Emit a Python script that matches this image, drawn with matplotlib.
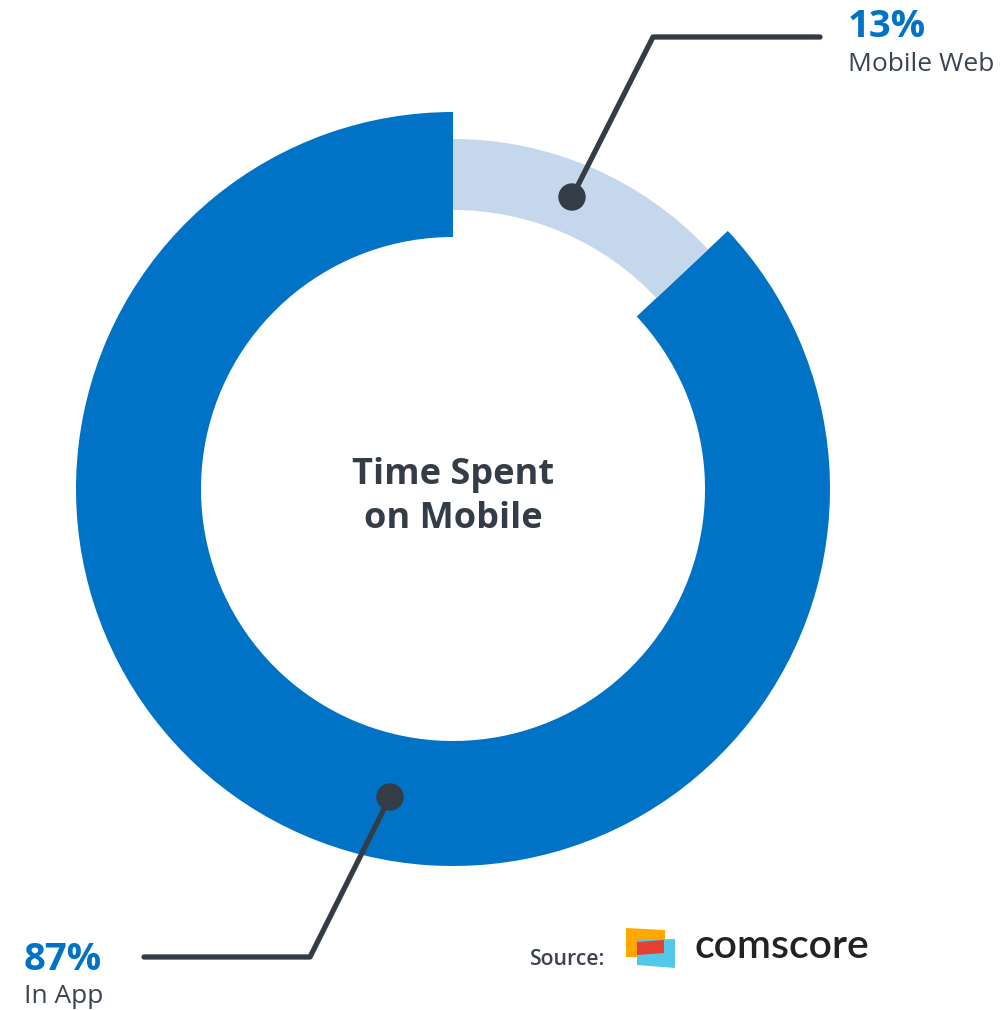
import matplotlib
matplotlib.use("Agg")
import matplotlib.pyplot as plt
from matplotlib.patches import Polygon, Circle

# ---- data ----
categories = ["In App", "Mobile Web"]
shares = [87, 13]
pct_labels = ["87%", "13%"]
title_text = "Time Spent\non Mobile"
source_text = "Source:"
brand_text = "comscore"

BLUE = "#0073C7"
LIGHT = "#C5D7EC"
DARK = "#333C47"
GREY = "#3B4450"

W, H = 1008, 1010
fig = plt.figure(figsize=(W / 100, H / 100), dpi=100)
ax = fig.add_axes([0, 0, 1, 1])
ax.set_xlim(0, W)
ax.set_ylim(0, H)
ax.set_aspect("equal")
ax.axis("off")

def Y(ypx):
    return H - ypx

cx, cy = 453, Y(489)

# outer (In App) ring
ax.pie(shares, colors=[BLUE, "none"], radius=377, center=(cx, cy),
       startangle=90, counterclock=True,
       wedgeprops=dict(width=125, linewidth=0))
# thinner Mobile Web ring
ax.pie(shares, colors=["none", LIGHT], radius=350, center=(cx, cy),
       startangle=90, counterclock=True,
       wedgeprops=dict(width=71, linewidth=0))
ax.set_xlim(0, W)
ax.set_ylim(0, H)

# center title
ax.text(cx, Y(497), title_text, ha="center", va="center", fontsize=26,
        fontweight="bold", color=DARK, family="Open Sans", linespacing=1.3)

# leader lines
ax.plot([572, 653, 820], [Y(197), Y(37), Y(37)], color=DARK, lw=3.8,
        solid_capstyle="round", solid_joinstyle="round")
ax.add_patch(Circle((572, Y(197)), 13, color=DARK, zorder=5))
ax.plot([390, 310, 144], [Y(797), Y(957), Y(957)], color=DARK, lw=3.8,
        solid_capstyle="round", solid_joinstyle="round")
ax.add_patch(Circle((390, Y(797)), 13, color=DARK, zorder=5))

# labels
ax.text(848, Y(37), pct_labels[1], ha="left", va="baseline", fontsize=27.5,
        fontweight="bold", color=BLUE, family="Open Sans")
ax.text(848, Y(71), categories[1], ha="left", va="baseline", fontsize=19,
        color=GREY, family="Open Sans")
ax.text(24, Y(970), pct_labels[0], ha="left", va="baseline", fontsize=27.5,
        fontweight="bold", color=BLUE, family="Open Sans")
ax.text(24, Y(1003), categories[0], ha="left", va="baseline", fontsize=19,
        color=GREY, family="Open Sans")

# source + logo
ax.text(530, Y(965), source_text, ha="left", va="baseline", fontsize=15.3,
        fontweight="semibold", color=GREY, family="Open Sans")
ax.add_patch(Polygon([(626, Y(928)), (665, Y(930)), (665, Y(958)), (626, Y(957))],
                     closed=True, color="#FFA800", lw=0))
ax.add_patch(Polygon([(637, Y(940)), (675, Y(939)), (675, Y(968)), (637, Y(965))],
                     closed=True, color="#54C8EA", lw=0))
ax.add_patch(Polygon([(637, Y(942)), (664, Y(940)), (664, Y(953)), (637, Y(955))],
                     closed=True, color="#E63E32", lw=0))
ax.text(694, Y(958), brand_text, ha="left", va="baseline", fontsize=29.5,
        color="#222222", family="Lato", fontweight="semibold")

fig.savefig("out.png", dpi=100)
